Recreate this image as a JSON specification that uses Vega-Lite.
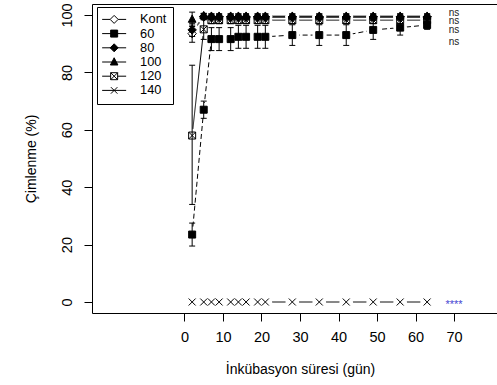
{
  "$schema": "https://vega.github.io/schema/vega-lite/v6.json",
  "width": 405,
  "height": 309,
  "autosize": {"type": "none"},
  "padding": {"left": 92, "top": 4, "right": 0, "bottom": 72},
  "background": "white",
  "config": {
    "view": {"stroke": null},
    "font": "Liberation Sans",
    "axis": {"grid": false, "domainColor": "black", "tickColor": "black", "labelColor": "black", "titleColor": "black", "labelFont": "Liberation Sans", "titleFont": "Liberation Sans", "titleFontWeight": "normal", "labelFontSize": 14.5, "titleFontSize": 14, "tickSize": 8, "domainWidth": 1, "tickWidth": 1},
    "legend": {"title": null, "orient": "none", "legendX": 5, "legendY": 3, "strokeColor": "black", "fillColor": "white", "padding": 6, "cornerRadius": 0, "symbolSize": 100, "symbolOffset": 4.75, "labelOffset": 19.5, "rowPadding": 0.2, "labelFontSize": 12.8, "labelFont": "Liberation Sans", "labelColor": "black", "symbolStrokeWidth": 1, "symbolStrokeColor": "black", "symbolOpacity": 1}
  },
  "datasets": {
    "series": [
      {"grp": "Kont", "day": 2, "v": 93.5, "lo": 90.5, "hi": 96.5},
      {"grp": "Kont", "day": 5, "v": 99.5, "lo": 98.5, "hi": 100.5},
      {"grp": "Kont", "day": 7, "v": 99.3, "lo": 98.3, "hi": 100.3},
      {"grp": "Kont", "day": 9, "v": 99.3, "lo": 98.3, "hi": 100.3},
      {"grp": "Kont", "day": 12, "v": 99.3, "lo": 98.3, "hi": 100.3},
      {"grp": "Kont", "day": 14, "v": 99.3, "lo": 98.3, "hi": 100.3},
      {"grp": "Kont", "day": 16, "v": 99.3, "lo": 98.3, "hi": 100.3},
      {"grp": "Kont", "day": 19, "v": 99.3, "lo": 98.3, "hi": 100.3},
      {"grp": "Kont", "day": 21, "v": 99.3, "lo": 98.3, "hi": 100.3},
      {"grp": "Kont", "day": 28, "v": 99.3, "lo": 98.3, "hi": 100.3},
      {"grp": "Kont", "day": 35, "v": 99.3, "lo": 98.3, "hi": 100.3},
      {"grp": "Kont", "day": 42, "v": 99.3, "lo": 98.3, "hi": 100.3},
      {"grp": "Kont", "day": 49, "v": 99.3, "lo": 98.3, "hi": 100.3},
      {"grp": "Kont", "day": 56, "v": 99.3, "lo": 98.3, "hi": 100.3},
      {"grp": "Kont", "day": 63, "v": 99.3, "lo": 98.3, "hi": 100.3},
      {"grp": "60", "day": 2, "v": 23.5, "lo": 19.5, "hi": 27.5},
      {"grp": "60", "day": 5, "v": 67, "lo": 64, "hi": 70},
      {"grp": "60", "day": 7, "v": 91.6, "lo": 87.6, "hi": 95.6},
      {"grp": "60", "day": 9, "v": 91.6, "lo": 87.6, "hi": 95.6},
      {"grp": "60", "day": 12, "v": 91.6, "lo": 87.6, "hi": 95.6},
      {"grp": "60", "day": 14, "v": 92.4, "lo": 88.4, "hi": 96.4},
      {"grp": "60", "day": 16, "v": 92.4, "lo": 88.4, "hi": 96.4},
      {"grp": "60", "day": 19, "v": 92.4, "lo": 88.4, "hi": 96.4},
      {"grp": "60", "day": 21, "v": 92.4, "lo": 88.4, "hi": 96.4},
      {"grp": "60", "day": 28, "v": 93, "lo": 89.4, "hi": 96.6},
      {"grp": "60", "day": 35, "v": 93, "lo": 89.4, "hi": 96.6},
      {"grp": "60", "day": 42, "v": 93, "lo": 89.4, "hi": 96.6},
      {"grp": "60", "day": 49, "v": 94.8, "lo": 91.5, "hi": 98.1},
      {"grp": "60", "day": 56, "v": 95.6, "lo": 93, "hi": 98.2},
      {"grp": "60", "day": 63, "v": 96.5, "lo": 95, "hi": 98},
      {"grp": "80", "day": 2, "v": 94.8, "lo": 92.5, "hi": 97.1},
      {"grp": "80", "day": 5, "v": 99.3, "lo": 98.3, "hi": 100.3},
      {"grp": "80", "day": 7, "v": 99.3, "lo": 98.3, "hi": 100.3},
      {"grp": "80", "day": 9, "v": 99.3, "lo": 98.3, "hi": 100.3},
      {"grp": "80", "day": 12, "v": 99.3, "lo": 98.3, "hi": 100.3},
      {"grp": "80", "day": 14, "v": 99.3, "lo": 98.3, "hi": 100.3},
      {"grp": "80", "day": 16, "v": 99.3, "lo": 98.3, "hi": 100.3},
      {"grp": "80", "day": 19, "v": 99.3, "lo": 98.3, "hi": 100.3},
      {"grp": "80", "day": 21, "v": 99.3, "lo": 98.3, "hi": 100.3},
      {"grp": "80", "day": 28, "v": 99.3, "lo": 98.3, "hi": 100.3},
      {"grp": "80", "day": 35, "v": 99.3, "lo": 98.3, "hi": 100.3},
      {"grp": "80", "day": 42, "v": 99.3, "lo": 98.3, "hi": 100.3},
      {"grp": "80", "day": 49, "v": 99.3, "lo": 98.3, "hi": 100.3},
      {"grp": "80", "day": 56, "v": 99.3, "lo": 98.3, "hi": 100.3},
      {"grp": "80", "day": 63, "v": 99.3, "lo": 98.3, "hi": 100.3},
      {"grp": "100", "day": 2, "v": 98.5, "lo": 96, "hi": 101},
      {"grp": "100", "day": 5, "v": 99.8, "lo": 99, "hi": 100.6},
      {"grp": "100", "day": 7, "v": 99.6, "lo": 98.8, "hi": 100.4},
      {"grp": "100", "day": 9, "v": 99.6, "lo": 98.8, "hi": 100.4},
      {"grp": "100", "day": 12, "v": 99.6, "lo": 98.8, "hi": 100.4},
      {"grp": "100", "day": 14, "v": 99.6, "lo": 98.8, "hi": 100.4},
      {"grp": "100", "day": 16, "v": 99.6, "lo": 98.8, "hi": 100.4},
      {"grp": "100", "day": 19, "v": 99.6, "lo": 98.8, "hi": 100.4},
      {"grp": "100", "day": 21, "v": 99.6, "lo": 98.8, "hi": 100.4},
      {"grp": "100", "day": 28, "v": 99.6, "lo": 98.8, "hi": 100.4},
      {"grp": "100", "day": 35, "v": 99.6, "lo": 98.8, "hi": 100.4},
      {"grp": "100", "day": 42, "v": 99.6, "lo": 98.8, "hi": 100.4},
      {"grp": "100", "day": 49, "v": 99.6, "lo": 98.8, "hi": 100.4},
      {"grp": "100", "day": 56, "v": 99.6, "lo": 98.8, "hi": 100.4},
      {"grp": "100", "day": 63, "v": 99.6, "lo": 98.8, "hi": 100.4},
      {"grp": "120", "day": 2, "v": 58, "lo": 34, "hi": 82.5},
      {"grp": "120", "day": 5, "v": 95, "lo": 91.5, "hi": 98.5},
      {"grp": "120", "day": 7, "v": 98.2, "lo": 97, "hi": 99.4},
      {"grp": "120", "day": 9, "v": 98.2, "lo": 97, "hi": 99.4},
      {"grp": "120", "day": 12, "v": 98.2, "lo": 97, "hi": 99.4},
      {"grp": "120", "day": 14, "v": 98.2, "lo": 97, "hi": 99.4},
      {"grp": "120", "day": 16, "v": 98.2, "lo": 97, "hi": 99.4},
      {"grp": "120", "day": 19, "v": 98.2, "lo": 97, "hi": 99.4},
      {"grp": "120", "day": 21, "v": 98.2, "lo": 97, "hi": 99.4},
      {"grp": "120", "day": 28, "v": 98.2, "lo": 97, "hi": 99.4},
      {"grp": "120", "day": 35, "v": 98.2, "lo": 97, "hi": 99.4},
      {"grp": "120", "day": 42, "v": 98.2, "lo": 97, "hi": 99.4},
      {"grp": "120", "day": 49, "v": 98.2, "lo": 97, "hi": 99.4},
      {"grp": "120", "day": 56, "v": 98.2, "lo": 97, "hi": 99.4},
      {"grp": "120", "day": 63, "v": 98.2, "lo": 97, "hi": 99.4},
      {"grp": "140", "day": 2, "v": 0, "lo": null, "hi": null},
      {"grp": "140", "day": 5, "v": 0, "lo": null, "hi": null},
      {"grp": "140", "day": 7, "v": 0, "lo": null, "hi": null},
      {"grp": "140", "day": 9, "v": 0, "lo": null, "hi": null},
      {"grp": "140", "day": 12, "v": 0, "lo": null, "hi": null},
      {"grp": "140", "day": 14, "v": 0, "lo": null, "hi": null},
      {"grp": "140", "day": 16, "v": 0, "lo": null, "hi": null},
      {"grp": "140", "day": 19, "v": 0, "lo": null, "hi": null},
      {"grp": "140", "day": 21, "v": 0, "lo": null, "hi": null},
      {"grp": "140", "day": 28, "v": 0, "lo": null, "hi": null},
      {"grp": "140", "day": 35, "v": 0, "lo": null, "hi": null},
      {"grp": "140", "day": 42, "v": 0, "lo": null, "hi": null},
      {"grp": "140", "day": 49, "v": 0, "lo": null, "hi": null},
      {"grp": "140", "day": 56, "v": 0, "lo": null, "hi": null},
      {"grp": "140", "day": 63, "v": 0, "lo": null, "hi": null}
    ],
    "notes": [
      {"day": 70, "v": 100.7, "label": "ns", "kind": "ns"},
      {"day": 70, "v": 97.9, "label": "ns", "kind": "ns"},
      {"day": 70, "v": 94.6, "label": "ns", "kind": "ns"},
      {"day": 70, "v": 90.7, "label": "ns", "kind": "ns"},
      {"day": 70, "v": 0, "label": "****", "kind": "star"}
    ]
  },
  "resolve": {"axis": {"x": "independent", "y": "independent"}},
  "layer": [
    {
      "data": {"name": "series"},
      "mark": {"type": "line", "color": "black", "strokeWidth": 1},
      "encoding": {
        "x": {"field": "day", "type": "quantitative", "scale": {"domain": [-24, 81.14], "nice": false, "zero": false},
          "axis": {"orient": "bottom", "values": [0, 10, 20, 30, 40, 50, 60, 70], "title": "İnkübasyon süresi (gün)", "labelPadding": 9, "titlePadding": 19, "titleX": 208}},
        "y": {"field": "v", "type": "quantitative", "scale": {"domain": [-3.83, 103.83], "nice": false, "zero": false},
          "axis": {"orient": "left", "values": [0, 20, 40, 60, 80, 100], "title": "Çimlenme (%)", "labelAngle": 270, "labelAlign": "center", "labelBaseline": "alphabetic", "labelPadding": 13, "titlePadding": 21}},
        "detail": {"field": "grp"},
        "strokeDash": {"condition": {"test": "datum.grp === '60'", "value": [5, 3]}, "value": [1, 0]}
      }
    },
    {
      "data": {"name": "series"},
      "mark": {"type": "point", "shape": "circle", "filled": true, "color": "white", "opacity": 1, "size": 190},
      "encoding": {
        "x": {"field": "day", "type": "quantitative", "axis": null},
        "y": {"field": "v", "type": "quantitative", "axis": null}
      }
    },
    {
      "data": {"name": "series"},
      "transform": [{"filter": "datum.lo != null"}],
      "mark": {"type": "rule", "color": "black", "strokeWidth": 1},
      "encoding": {
        "x": {"field": "day", "type": "quantitative", "axis": null},
        "y": {"field": "lo", "type": "quantitative", "axis": null},
        "y2": {"field": "hi"}
      }
    },
    {
      "data": {"name": "series"},
      "transform": [{"filter": "datum.lo != null"}],
      "mark": {"type": "tick", "orient": "horizontal", "size": 6, "thickness": 1, "color": "black", "opacity": 1},
      "encoding": {
        "x": {"field": "day", "type": "quantitative", "axis": null},
        "y": {"field": "lo", "type": "quantitative", "axis": null}
      }
    },
    {
      "data": {"name": "series"},
      "transform": [{"filter": "datum.lo != null"}],
      "mark": {"type": "tick", "orient": "horizontal", "size": 6, "thickness": 1, "color": "black", "opacity": 1},
      "encoding": {
        "x": {"field": "day", "type": "quantitative", "axis": null},
        "y": {"field": "hi", "type": "quantitative", "axis": null}
      }
    },
    {
      "data": {"name": "series"},
      "mark": {"type": "point", "filled": true, "stroke": "black", "strokeWidth": 1, "opacity": 1, "size": 49},
      "encoding": {
        "x": {"field": "day", "type": "quantitative", "axis": null},
        "y": {"field": "v", "type": "quantitative", "axis": null},
        "fill": {"condition": {"test": "indexof(['60','80','100'], datum.grp) >= 0", "value": "black"}, "value": "transparent"},
        "shape": {"condition": [
            {"test": "datum.grp === 'Kont'", "value": "M0,-1.2L1.2,0L0,1.2L-1.2,0Z"},
            {"test": "datum.grp === '60'", "value": "M-1,-1H1V1H-1Z"},
            {"test": "datum.grp === '80'", "value": "M0,-1.2L1.2,0L0,1.2L-1.2,0Z"},
            {"test": "datum.grp === '100'", "value": "M0,-1.2L1.1,0.85H-1.1Z"},
            {"test": "datum.grp === '120'", "value": "M-1,-1H1V1H-1ZM-1,-1L1,1M1,-1L-1,1"}
          ], "value": "M-1,-1L1,1M1,-1L-1,1"}
      }
    },
    {
      "data": {"name": "series"},
      "transform": [{"filter": "datum.day === 2"}],
      "mark": {"type": "point", "filled": true, "strokeWidth": 1, "opacity": 1, "size": 0},
      "encoding": {
        "x": {"field": "day", "type": "quantitative", "axis": null},
        "y": {"field": "v", "type": "quantitative", "axis": null},
        "shape": {"field": "grp", "type": "nominal",
          "scale": {"domain": ["Kont", "60", "80", "100", "120", "140"],
            "range": ["M-2.4,0H-0.8M0.8,0H2.4M0,-0.8L0.8,0L0,0.8L-0.8,0Z", "M-2.4,0H2.4M-0.7,-0.7H0.7V0.7H-0.7Z", "M-2.4,0H2.4M0,-0.8L0.8,0L0,0.8L-0.8,0Z", "M-2.4,0H2.4M0,-0.85L0.75,0.6H-0.75Z", "M-2.4,0H-0.7M0.7,0H2.4M-0.7,-0.7H0.7V0.7H-0.7ZM-0.7,-0.7L0.7,0.7M0.7,-0.7L-0.7,0.7", "M-2.4,0H2.4M-0.65,-0.65L0.65,0.65M0.65,-0.65L-0.65,0.65"]},
          "legend": {}
        },
        "fill": {"field": "grp", "type": "nominal",
          "scale": {"domain": ["Kont", "60", "80", "100", "120", "140"], "range": ["white", "black", "black", "black", "white", "white"]},
          "legend": {}
        },
        "stroke": {"field": "grp", "type": "nominal",
          "scale": {"domain": ["Kont", "60", "80", "100", "120", "140"], "range": ["black", "black", "black", "black", "black", "black"]},
          "legend": {}
        }
      }
    },
    {
      "data": {"name": "notes"},
      "transform": [{"filter": "datum.kind === 'ns'"}],
      "mark": {"type": "text", "fontSize": 10, "color": "#222222", "align": "center", "baseline": "middle", "font": "Liberation Sans"},
      "encoding": {
        "x": {"field": "day", "type": "quantitative", "axis": null},
        "y": {"field": "v", "type": "quantitative", "axis": null},
        "text": {"field": "label"}
      }
    },
    {
      "data": {"name": "notes"},
      "transform": [{"filter": "datum.kind === 'star'"}],
      "mark": {"type": "text", "fontSize": 11, "color": "#4646d2", "align": "center", "baseline": "middle", "dy": 3, "font": "Liberation Sans"},
      "encoding": {
        "x": {"field": "day", "type": "quantitative", "axis": {"orient": "top", "labels": false, "ticks": false, "title": null, "domain": true, "domainColor": "black", "grid": false}},
        "y": {"field": "v", "type": "quantitative", "axis": null},
        "text": {"field": "label"}
      }
    }
  ]
}
